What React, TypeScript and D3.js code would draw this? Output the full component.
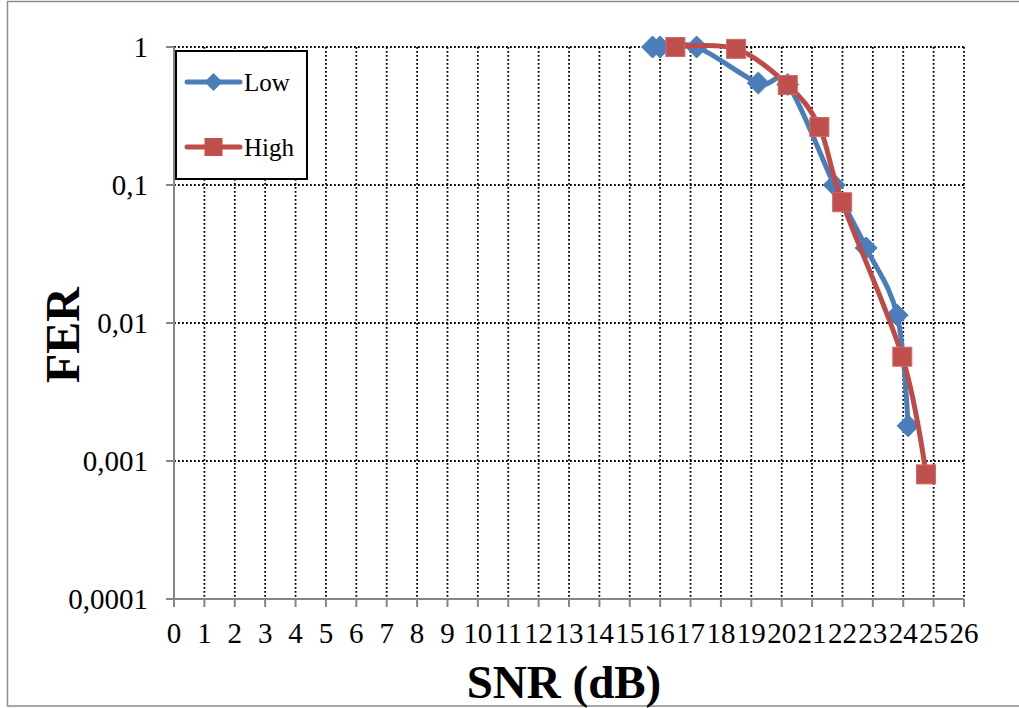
import React from "react";
import * as d3 from "d3";

// Frame error rate versus SNR for two configurations
const lowSnr = [15.75, 16.0, 17.2, 19.23, 20.2, 21.73, 22.78, 23.8, 24.16];
const lowFer = [1, 1, 1, 0.548, 0.535, 0.1, 0.035, 0.0114, 0.0018];
const highSnr = [16.5, 18.5, 20.2, 21.24, 21.99, 23.97, 24.75];
const highFer = [1, 0.97, 0.53, 0.263, 0.075, 0.0057, 0.0008];

const xTicks = d3.range(0, 27);
const yTicks = [1, 0.1, 0.01, 0.001, 0.0001];
const yTickLabels = ["1", "0,1", "0,01", "0,001", "0,0001"];

const W = 1019;
const H = 708;
const plot = { left: 174, right: 964, top: 47, bottom: 599 };

const BLUE = "#4a7ebb";
const RED = "#be4b48";
const AXIS = "#868686";
const SERIF = "'Liberation Serif', 'Times New Roman', serif";

export default function App() {
  const x = d3.scaleLinear().domain([0, 26]).range([plot.left, plot.right]);
  const y = d3.scaleLog().domain([0.0001, 1]).range([plot.bottom, plot.top]);

  const line = d3
    .line<[number, number]>()
    .x((d) => x(d[0]))
    .y((d) => y(d[1]))
    .curve(d3.curveCatmullRom.alpha(0));

  const low: [number, number][] = lowSnr.map((s, i) => [s, lowFer[i]]);
  const high: [number, number][] = highSnr.map((s, i) => [s, highFer[i]]);

  const diamond = (cx: number, cy: number, r: number) =>
    `M${cx},${cy - r}L${cx + r},${cy}L${cx},${cy + r}L${cx - r},${cy}Z`;

  return (
    <svg
      width={W}
      height={H}
      style={{ position: "absolute", left: 0, top: 0, background: "#fff" }}
    >
      <rect x={7.5} y={1.5} width={1030} height={704.5} fill="#fff" stroke="#8c8c8c" strokeWidth={1.5} />

      {/* grid */}
      <g stroke="#000" strokeWidth={1.8} strokeDasharray="1.8,2.2">
        {xTicks.slice(1).map((t) => (
          <line key={"gx" + t} x1={x(t)} x2={x(t)} y1={plot.top} y2={plot.bottom} />
        ))}
        {yTicks.slice(0, 4).map((t) => (
          <line key={"gy" + t} x1={plot.left} x2={plot.right} y1={y(t)} y2={y(t)} />
        ))}
      </g>

      {/* axes */}
      <g stroke={AXIS} strokeWidth={2}>
        <line x1={plot.left} x2={plot.left} y1={plot.top} y2={plot.bottom} />
        <line x1={plot.left} x2={plot.right} y1={plot.bottom} y2={plot.bottom} />
        {xTicks.map((t) => (
          <line key={"tx" + t} x1={x(t)} x2={x(t)} y1={plot.bottom} y2={plot.bottom + 8} />
        ))}
        {yTicks.map((t) => (
          <line key={"ty" + t} x1={plot.left - 8} x2={plot.left} y1={y(t)} y2={y(t)} />
        ))}
      </g>

      {/* tick labels */}
      <g fontFamily={SERIF} fontSize={29} fill="#000">
        {xTicks.map((t) => (
          <text key={"lx" + t} x={x(t)} y={643} textAnchor="middle">
            {t}
          </text>
        ))}
        {yTicks.map((t, i) => (
          <text key={"ly" + t} x={148} y={y(t) + 10} textAnchor="end">
            {yTickLabels[i]}
          </text>
        ))}
      </g>

      {/* axis titles */}
      <text
        x={564}
        y={698}
        textAnchor="middle"
        fontFamily={SERIF}
        fontWeight="bold"
        fontSize={47}
      >
        SNR (dB)
      </text>
      <text
        transform="translate(79,335) rotate(-90)"
        textAnchor="middle"
        fontFamily={SERIF}
        fontWeight="bold"
        fontSize={48}
      >
        FER
      </text>

      {/* series */}
      <path d={line(low) ?? ""} fill="none" stroke={BLUE} strokeWidth={5} strokeLinejoin="round" />
      {low.map((d, i) => (
        <path key={"ml" + i} d={diamond(x(d[0]), y(d[1]), 11)} fill={BLUE} stroke={BLUE} strokeWidth={1} />
      ))}
      <path d={line(high) ?? ""} fill="none" stroke={RED} strokeWidth={5} strokeLinejoin="round" />
      {high.map((d, i) => (
        <rect
          key={"mh" + i}
          x={x(d[0]) - 9.5}
          y={y(d[1]) - 9.5}
          width={19}
          height={19}
          fill="#c0504d"
          stroke="#cf6a67"
          strokeWidth={1}
        />
      ))}

      {/* legend */}
      <g>
        <rect x={176} y={51} width={131} height={128} fill="#fff" stroke="#000" strokeWidth={2} />
        <line x1={187} x2={240} y1={82} y2={82} stroke={BLUE} strokeWidth={5} strokeLinecap="round" />
        <path d={diamond(213.5, 82, 9)} fill={BLUE} />
        <text x={244} y={91} fontFamily={SERIF} fontSize={25}>
          Low
        </text>
        <line x1={187} x2={240} y1={147} y2={147} stroke={RED} strokeWidth={5} strokeLinecap="round" />
        <rect x={204.5} y={138} width={18} height={18} fill="#c0504d" />
        <text x={244} y={156} fontFamily={SERIF} fontSize={25}>
          High
        </text>
      </g>
    </svg>
  );
}
